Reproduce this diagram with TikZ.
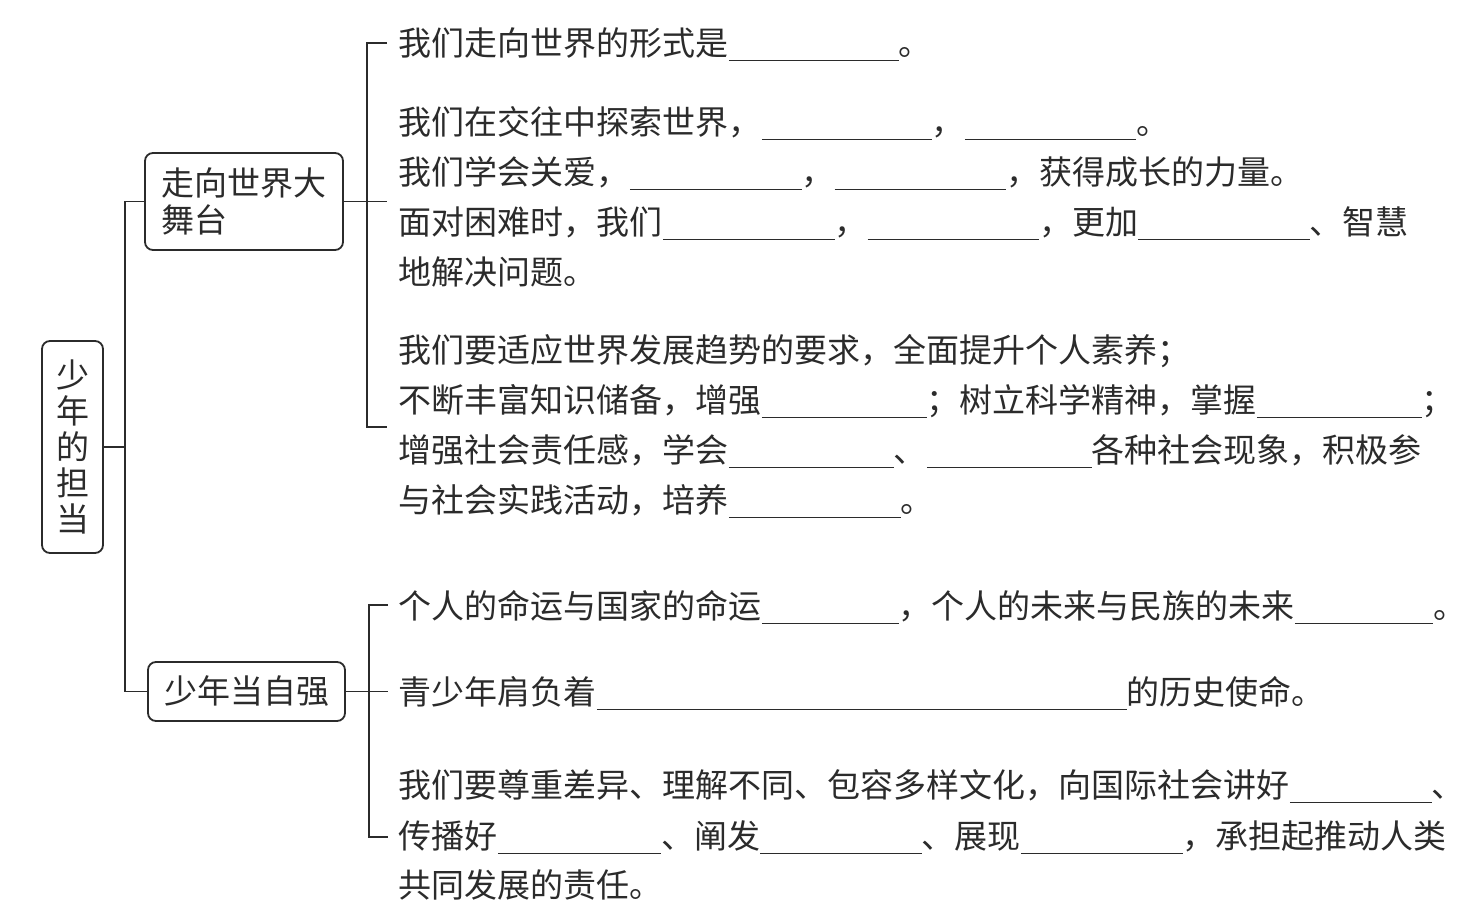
\documentclass[tikz,border=0pt]{standalone}
\usepackage{fontspec}
\setmainfont{Noto Sans CJK SC}
\definecolor{ink}{HTML}{2B2B2B}
\newcommand{\fillblank}[1]{\rule[-0.18em]{#1em}{0.7pt}}
\newcommand{\bodyfont}{\fontsize{16.5pt}{18pt}\selectfont}

\begin{document}
\begin{tikzpicture}[x=0.5pt, y=-0.5pt, line width=0.9pt, color=ink,
  topicbox/.style={draw, rounded corners=4pt, inner sep=0pt, font=\bodyfont},
  textline/.style={anchor=base west, inner sep=0pt, font=\bodyfont}]
  \useasboundingbox (0,0) rectangle (1479,909);

  % topic boxes
  \node[topicbox, minimum width=30.5pt, minimum height=106pt, align=center] (root) at (72.5,447) {少\\年\\的\\担\\当};
  \node[topicbox, minimum width=99pt, minimum height=48.5pt, align=left] (stage) at (244,201.5) {走向世界大\\[0.5pt]舞台};
  \node[topicbox, minimum width=98.5pt, minimum height=29.5pt] (strong) at (246.5,691.5) {少年当自强};

  % trunk
  \coordinate (trunk) at (125,447);
  \draw (root.east) -- (trunk);
  \draw (stage.west) -| (trunk) |- (strong.west);

  % 走向世界大舞台
  \node[textline] (a1) at (398,55.5) {我们走向世界的形式是\fillblank{5.15}。};
  \node[textline] (a2) at (398,134.5) {我们在交往中探索世界，\fillblank{5.15}，\fillblank{5.2}。};
  \node[textline] (a3) at (398,184.5) {我们学会关爱，\fillblank{5.2}，\fillblank{5.2}，获得成长的力量。};
  \node[textline] (a4) at (398,234.5) {面对困难时，我们\fillblank{5.2}，\fillblank{5.2}，更加\fillblank{5.2}、智慧};
  \node[textline] (a5) at (398,284.5) {地解决问题。};
  \node[textline] (a6) at (398,362.5) {我们要适应世界发展趋势的要求，全面提升个人素养；};
  \node[textline] (a7) at (398,412.5) {不断丰富知识储备，增强\fillblank{5}；树立科学精神，掌握\fillblank{5}；};
  \node[textline] (a8) at (398,462.5) {增强社会责任感，学会\fillblank{5}、\fillblank{5}各种社会现象，积极参};
  \node[textline] (a9) at (398,512.5) {与社会实践活动，培养\fillblank{5.2}。};

  \coordinate (g1top) at (387,43);
  \coordinate (g1bot) at (387,427);
  \draw (stage.east) -- (stage.east -| g1top);
  \draw (g1top) -- ++(-20,0) |- (g1bot);

  % 少年当自强
  \node[textline] (b1) at (398,618.5) {个人的命运与国家的命运\fillblank{4.15}，个人的未来与民族的未来\fillblank{4.2}。};
  \node[textline] (b2) at (398,704.5) {青少年肩负着\fillblank{16.05}的历史使命。};
  \node[textline] (b3) at (398,797.5) {我们要尊重差异、理解不同、包容多样文化，向国际社会讲好\fillblank{4.3}、};
  \node[textline] (b4) at (398,848.5) {传播好\fillblank{4.95}、阐发\fillblank{4.9}、展现\fillblank{4.9}，承担起推动人类};
  \node[textline] (b5) at (398,897.5) {共同发展的责任。};

  \coordinate (g2top) at (388,605);
  \coordinate (g2bot) at (388,837);
  \draw (strong.east) -- (strong.east -| g2top);
  \draw (g2top) -- ++(-19,0) |- (g2bot);
\end{tikzpicture}
\end{document}
